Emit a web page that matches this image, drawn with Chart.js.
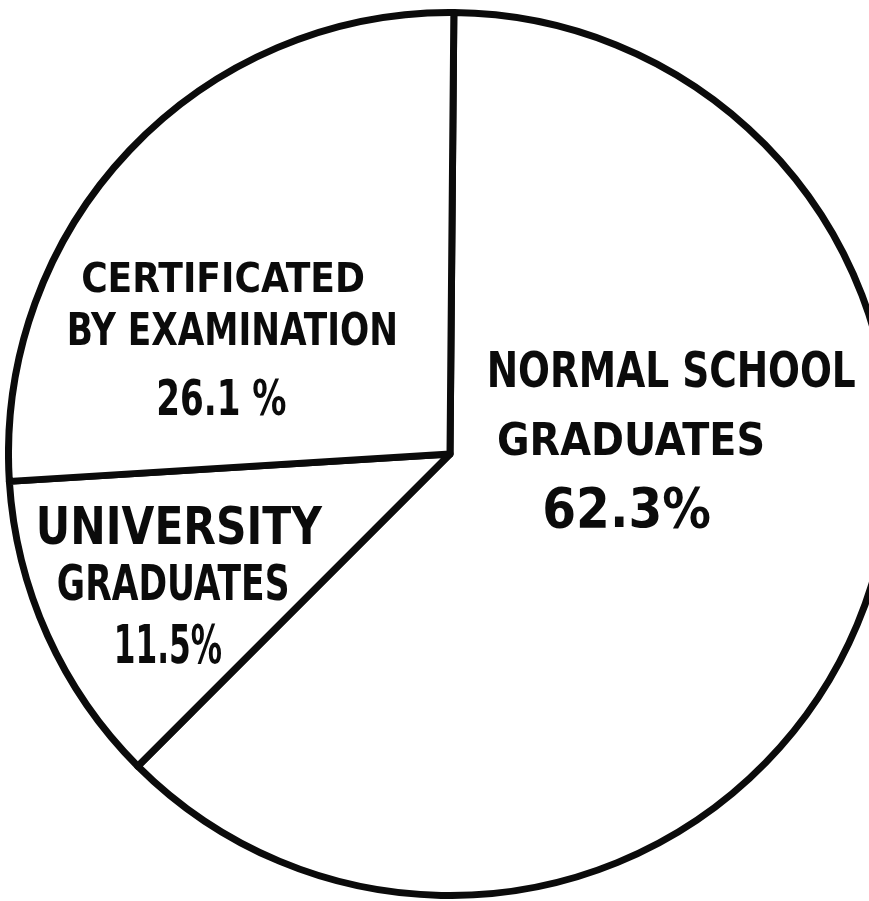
<!DOCTYPE html>
<html>
<head>
<meta charset="utf-8">
<script src="https://cdn.jsdelivr.net/npm/chart.js@4.4.1/dist/chart.umd.min.js"></script>
<style>
  html, body { margin: 0; padding: 0; background: #fff; overflow: hidden; }
  #wrap { position: absolute; left: 5px; top: 9px; width: 890px; height: 890px; }
</style>
</head>
<body>
<div id="wrap"><canvas id="pieChart"></canvas></div>
<script>
const categories = [
    ['NORMAL SCHOOL', 'GRADUATES'],
    ['UNIVERSITY', 'GRADUATES'],
    ['CERTIFICATED', 'BY EXAMINATION']
];
const shares = [62.3, 11.5, 26.1];
const pctLabels = ['62.3%', '11.5%', '26.1 %'];

// where each text line sits, as offsets from the pie centre in units of the radius
// [dx, dy, width, capHeight]
const labelLayout = [
    [[0.501, -0.180, 0.836, 0.080], [0.410, -0.023, 0.607, 0.072], [0.400, 0.132, 0.382, 0.090]],
    [[-0.614, 0.173, 0.648, 0.084], [-0.627, 0.302, 0.527, 0.080], [-0.639, 0.441, 0.245, 0.088]],
    [[-0.514, -0.391, 0.643, 0.068], [-0.493, -0.273, 0.750, 0.072], [-0.518, -0.118, 0.295, 0.082]]
];

const sliceText = {
    id: 'sliceText',
    afterDatasetsDraw(chart) {
        const ctx = chart.ctx;
        const arcs = chart.getDatasetMeta(0).data;
        arcs.forEach((arc, i) => {
            const R = arc.outerRadius;
            const lines = categories[i].concat([pctLabels[i]]);
            lines.forEach((txt, j) => {
                const [dx, dy, w, cap] = labelLayout[i][j];
                const size = cap * R / 0.72;
                ctx.save();
                ctx.font = `bold ${size}px "DejaVu Sans Condensed", "DejaVu Sans", sans-serif`;
                ctx.fillStyle = '#0b0b0b';
                ctx.textAlign = 'center';
                ctx.textBaseline = 'middle';
                const measured = ctx.measureText(txt).width;
                ctx.translate(arc.x + dx * R, arc.y + dy * R);
                ctx.scale((w * R) / measured, 1);
                ctx.fillText(txt, 0, 0);
                ctx.restore();
            });
        });
    }
};

const ctx = document.getElementById('pieChart').getContext('2d');
const pieChart = new Chart(ctx, {
    type: 'pie',
    data: {
        labels: categories.map(c => c.join(' ')),
        datasets: [{
            data: shares,
            backgroundColor: '#ffffff',
            borderColor: '#0b0b0b',
            borderWidth: 7,
            borderJoinStyle: 'round'
        }]
    },
    options: {
        responsive: true,
        maintainAspectRatio: false,
        animation: false,
        events: [],
        rotation: 0.5,
        layout: { padding: 0 },
        plugins: {
            legend: { display: false },
            tooltip: { enabled: false }
        }
    },
    plugins: [sliceText]
});
</script>
</body>
</html>
